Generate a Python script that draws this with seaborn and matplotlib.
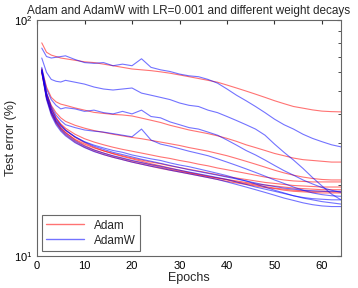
import numpy as np
import pandas as pd
import matplotlib
matplotlib.use("Agg")
import matplotlib.pyplot as plt
import matplotlib.ticker as mticker
import seaborn as sns

epochs = [1, 2, 3, 4, 5, 6, 8, 10, 12, 14, 16, 18, 20, 22, 24, 26, 28, 30, 32, 34,
          36, 38, 40, 42, 44, 46, 48, 50, 52, 54, 56, 58, 60, 62, 64]

# Adam runs (test error %, one list per weight decay)
adam_runs = [
    [80, 73, 71, 70, 69, 68.5, 67.5, 66.5, 66, 65, 64, 63, 62, 61.5, 61, 60.3, 59.5, 58.5, 57.5, 56.5,
     55.5, 54.5, 53, 51.5, 50, 48.5, 47, 45.5, 44.2, 43, 42.3, 41.6, 41.1, 40.9, 40.8],
    [62, 52, 47, 45, 44, 43.5, 42.4, 41.5, 40.6, 40.2, 39.8, 39.6, 39.2, 38.4, 37.6, 36.8, 35.8, 35.0, 34.2, 33.6,
     33.0, 32.3, 31.5, 30.6, 29.6, 28.8, 28.0, 27.2, 26.6, 26.0, 25.6, 25.4, 25.2, 25.0, 25.0],
    [61, 49, 43.5, 40.5, 38.5, 37.2, 35.8, 34.8, 34, 33.4, 32.8, 32.3, 31.8, 31.4, 30.9, 30.4, 29.9, 29.4, 28.8, 28.3,
     27.8, 27.2, 26.6, 25.9, 25.2, 24.5, 23.8, 23.1, 22.5, 22.0, 21.6, 21.3, 21.1, 21.0, 21.0],
    [61, 48, 42, 38.5, 36.3, 34.8, 32.8, 31.4, 30.4, 29.6, 28.9, 28.3, 27.8, 27.3, 26.8, 26.3, 25.9, 25.4, 25.0, 24.5,
     24.1, 23.6, 23.2, 22.8, 22.4, 22.0, 21.6, 21.3, 21.0, 20.8, 20.7, 20.6, 20.6, 20.6, 20.6],
    [60, 47, 40.5, 37, 34.8, 33.3, 31.2, 29.8, 28.7, 27.9, 27.2, 26.6, 26.0, 25.5, 25.0, 24.6, 24.1, 23.7, 23.3, 22.9,
     22.5, 22.1, 21.7, 21.4, 21.1, 20.8, 20.5, 20.3, 20.1, 19.9, 19.8, 19.7, 19.6, 19.6, 19.6],
    [61, 47.5, 41, 37.3, 35, 33.4, 31.0, 29.4, 28.2, 27.3, 26.5, 25.9, 25.3, 24.8, 24.3, 23.8, 23.3, 22.9, 22.5, 22.1,
     21.7, 21.4, 21.1, 20.8, 20.5, 20.2, 20.0, 19.8, 19.6, 19.4, 19.3, 19.2, 19.1, 19.1, 19.1],
    [60, 46.5, 40, 36.5, 34.2, 32.6, 30.4, 28.9, 27.8, 26.9, 26.2, 25.6, 25.0, 24.5, 24.0, 23.5, 23.1, 22.7, 22.3, 21.9,
     21.5, 21.1, 20.7, 20.4, 20.1, 19.8, 19.5, 19.3, 19.0, 18.8, 18.7, 18.6, 18.5, 18.5, 18.5],
    [62, 49, 42.5, 38.5, 36, 34.2, 31.8, 30.2, 28.9, 27.9, 27.1, 26.4, 25.8, 25.2, 24.6, 24.1, 23.6, 23.1, 22.6, 22.2,
     21.8, 21.4, 21.0, 20.6, 20.3, 20.0, 19.7, 19.4, 19.2, 19.0, 18.9, 18.8, 18.8, 18.7, 18.7],
]

# AdamW runs
adamw_runs = [
    [76, 70, 69, 69.5, 70, 70.5, 68, 66, 65.5, 66, 64, 65, 64, 68.5, 63, 61.5, 60.5, 59, 58, 57.5,
     56, 54, 51, 48, 45.5, 43, 40.5, 38, 36, 34.5, 32.8, 31.5, 30.5, 29.6, 29],
    [69, 60, 56, 55, 54.6, 55.5, 54.5, 53.5, 52, 51, 50.5, 51, 51.5, 49, 48, 47, 46, 44.5, 43.5, 43,
     41.5, 40.5, 39, 37.5, 36, 34.5, 32.5, 29.8, 27.5, 25.5, 23.5, 21.5, 19.8, 18.3, 17.3],
    [63, 51, 46, 43.5, 42, 42.5, 42, 41, 41.5, 40.5, 40, 41, 40, 41.5, 39, 38.5, 37, 36, 35, 34.5,
     33.5, 32.5, 31, 29.5, 28, 26.8, 25.5, 24.2, 23, 22, 21, 20.2, 19.5, 19, 18.6],
    [61, 49, 43, 39.5, 37.5, 36, 35, 34.2, 33.8, 33.5, 33, 32.5, 32, 34.5, 31, 29.8, 29.2, 28.5, 27.8, 27.2,
     26.6, 25.8, 25.0, 24.2, 23.4, 22.6, 21.8, 21.0, 20.3, 19.6, 19.0, 18.5, 18.2, 18.0, 17.9],
    [61, 47, 41, 37.5, 35.5, 34, 32, 30.5, 29.5, 28.7, 28, 27.5, 26.8, 26.3, 25.8, 25.4, 24.8, 24.3, 23.9, 23.4,
     22.9, 22.4, 21.9, 21.3, 20.8, 20.2, 19.6, 19.0, 18.5, 18.0, 17.6, 17.3, 17.0, 16.8, 16.6],
    [60, 46, 39.5, 36, 33.8, 32.3, 30.2, 28.8, 27.7, 26.9, 26.2, 25.6, 25.0, 24.5, 24.0, 23.6, 23.1, 22.7, 22.3, 21.9,
     21.5, 21.1, 20.6, 20.1, 19.6, 19.1, 18.6, 18.1, 17.6, 17.2, 16.8, 16.5, 16.3, 16.2, 16.2],
    [61, 47, 40.5, 36.8, 34.5, 32.9, 30.7, 29.2, 28.1, 27.3, 26.6, 26.0, 25.4, 24.9, 24.4, 24.0, 23.5, 23.1, 22.7, 22.3,
     21.9, 21.5, 21.1, 20.6, 20.1, 19.6, 19.2, 18.8, 18.4, 18.0, 17.7, 17.5, 17.4, 17.3, 17.3],
    [62, 48.5, 42, 38, 35.8, 34.2, 32, 30.4, 29.2, 28.3, 27.5, 26.9, 26.3, 25.7, 25.2, 24.7, 24.2, 23.7, 23.2, 22.8,
     22.4, 22.0, 21.6, 21.2, 20.8, 20.4, 20.0, 19.7, 19.4, 19.2, 19.0, 18.9, 18.8, 18.8, 18.8],
]

rows = []
for name, runs in [("Adam", adam_runs), ("AdamW", adamw_runs)]:
    for i, run in enumerate(runs):
        for ep, err in zip(epochs, run):
            rows.append({"optimizer": name, "run": f"{name}_{i}", "epoch": ep, "error": err})
df = pd.DataFrame(rows)

sns.set_style("white")
plt.rcParams["font.family"] = ["Liberation Sans", "DejaVu Sans"]

fig = plt.figure(figsize=(3.58, 2.88), dpi=100)
ax = fig.add_axes([0.1034, 0.1111, 0.8491, 0.8195])

sns.lineplot(data=df, x="epoch", y="error", hue="optimizer", units="run", estimator=None,
             palette={"Adam": "#ff0000", "AdamW": "#0000ff"}, alpha=0.55, linewidth=0.8, ax=ax)

ax.set_yscale("log")
ax.set_xlim(0, 64)
ax.set_ylim(10, 100)
ax.set_xticks([0, 10, 20, 30, 40, 50, 60])
ax.yaxis.set_major_locator(mticker.LogLocator(base=10, numticks=5))
ax.yaxis.set_minor_locator(mticker.LogLocator(base=10, subs=np.arange(2, 10), numticks=10))
ax.yaxis.set_minor_formatter(mticker.NullFormatter())
ax.tick_params(which="both", direction="in", top=True, right=True, labelsize=8, colors="#333333",
               labelcolor="black")
ax.tick_params(which="major", length=3)
ax.tick_params(which="minor", length=2)
for s in ax.spines.values():
    s.set_color("#666666")
    s.set_linewidth(0.8)

ax.set_xlabel("Epochs", fontsize=9, labelpad=1)
ax.set_ylabel("Test error (%)", fontsize=9)
ax.yaxis.set_label_coords(-0.065, 0.5)
ax.set_title("Adam and AdamW with LR=0.001 and different weight decays", fontsize=8.5, pad=4)

leg = ax.legend(loc="lower left", fontsize=8.5, frameon=True, fancybox=False, borderaxespad=0.4,
                handlelength=3.2, labelspacing=0.25)
leg.get_frame().set_edgecolor("#444444")
leg.get_frame().set_linewidth(0.8)
for h in leg.get_lines():
    h.set_linewidth(1.0)

fig.savefig("out.png", dpi=100)
